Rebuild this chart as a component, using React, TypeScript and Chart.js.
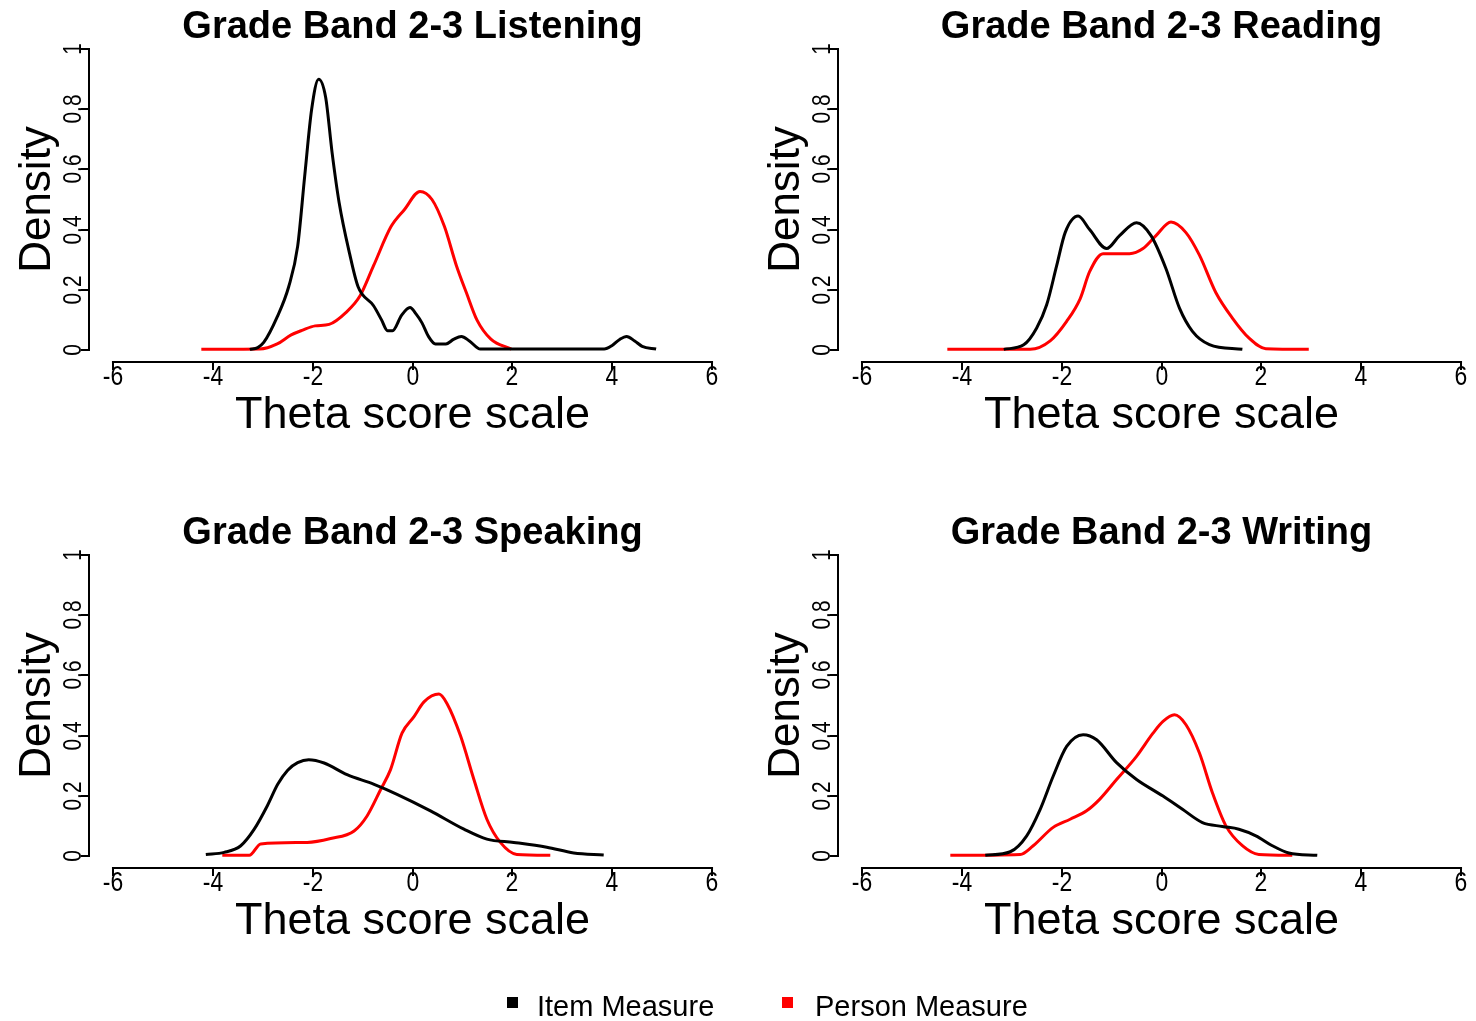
import React, { useEffect, useRef } from 'react';
import { Chart, registerables } from 'chart.js';

Chart.register(...registerables);

const FONT = '"Liberation Sans", Arial, Helvetica, sans-serif';

// ---- text / ticks ----
const panelTitles = [
  'Grade Band 2-3 Listening',
  'Grade Band 2-3 Reading',
  'Grade Band 2-3 Speaking',
  'Grade Band 2-3 Writing',
];
const xTickValues = [-6, -4, -2, 0, 2, 4, 6];
const xTickLabels = ['-6', '-4', '-2', '0', '2', '4', '6'];
const yTickValues = [0, 0.2, 0.4, 0.6, 0.8, 1];
const yTickLabels = ['0', '0.2', '0.4', '0.6', '0.8', '1'];
const xAxisLabel = 'Theta score scale';
const yAxisLabel = 'Density';
const seriesNames = ['Item Measure', 'Person Measure'];
const seriesColors = ['#000000', '#ff0000'];

// ---- Listening ----
const listeningItemX = [-3.26, -3.1, -2.98, -2.71, -2.48, -2.3, -2.16, -2.02, -1.88, -1.74, -1.61, -1.47, -1.26, -1.09, -0.78, -0.62, -0.5, -0.4, -0.22, -0.05, 0.07, 0.19, 0.32, 0.46, 0.67, 0.82, 0.98, 1.14, 1.36, 3.84, 4.0, 4.15, 4.29, 4.45, 4.6, 4.88];
const listeningItemY = [0.002, 0.008, 0.025, 0.11, 0.21, 0.345, 0.577, 0.8, 0.9, 0.84, 0.655, 0.49, 0.32, 0.21, 0.147, 0.1, 0.064, 0.064, 0.115, 0.141, 0.12, 0.09, 0.045, 0.02, 0.02, 0.035, 0.045, 0.03, 0.003, 0.003, 0.015, 0.035, 0.045, 0.03, 0.012, 0.003];
const listeningPersonX = [-4.23, -3.06, -2.71, -2.43, -2.2, -1.95, -1.67, -1.33, -1.05, -0.78, -0.43, -0.16, 0.15, 0.39, 0.64, 0.88, 1.08, 1.29, 1.57, 1.98];
const listeningPersonY = [0.002, 0.003, 0.02, 0.05, 0.066, 0.08, 0.085, 0.125, 0.18, 0.28, 0.41, 0.467, 0.527, 0.5, 0.41, 0.28, 0.19, 0.1, 0.036, 0.003];

// ---- Reading ----
const readingItemX = [-3.16, -2.76, -2.5, -2.3, -2.1, -1.93, -1.67, -1.44, -1.1, -0.84, -0.5, -0.21, 0.09, 0.36, 0.62, 0.96, 1.62];
const readingItemY = [0.002, 0.017, 0.073, 0.15, 0.28, 0.39, 0.445, 0.4, 0.337, 0.38, 0.423, 0.38, 0.27, 0.139, 0.062, 0.018, 0.002];
const readingPersonX = [-4.29, -2.63, -2.23, -1.9, -1.63, -1.44, -1.17, -0.64, -0.37, -0.11, 0.19, 0.49, 0.76, 1.09, 1.42, 1.75, 2.09, 2.95];
const readingPersonY = [0.002, 0.002, 0.03, 0.095, 0.17, 0.26, 0.32, 0.32, 0.337, 0.38, 0.425, 0.39, 0.315, 0.19, 0.106, 0.04, 0.004, 0.002];

// ---- Speaking ----
const speakingItemX = [-4.14, -3.77, -3.44, -3.17, -2.91, -2.7, -2.5, -2.3, -2.08, -1.77, -1.31, -0.77, -0.31, 0.36, 1.03, 1.49, 2.03, 2.69, 3.23, 3.83];
const speakingItemY = [0.005, 0.012, 0.034, 0.089, 0.166, 0.238, 0.285, 0.31, 0.32, 0.309, 0.27, 0.238, 0.205, 0.15, 0.089, 0.056, 0.045, 0.029, 0.01, 0.003];
const speakingPersonX = [-3.81, -3.27, -3.04, -2.11, -1.64, -1.17, -0.91, -0.64, -0.44, -0.21, 0.03, 0.23, 0.53, 0.69, 0.96, 1.23, 1.49, 1.76, 2.09, 2.76];
const speakingPersonY = [0.002, 0.002, 0.04, 0.045, 0.058, 0.083, 0.133, 0.22, 0.287, 0.408, 0.463, 0.512, 0.538, 0.507, 0.4, 0.254, 0.122, 0.045, 0.005, 0.002];

// ---- Writing ----
const writingItemX = [-3.53, -3.03, -2.7, -2.43, -2.17, -1.9, -1.57, -1.3, -0.9, -0.5, 0.03, 0.42, 0.82, 1.22, 1.55, 1.89, 2.22, 2.55, 3.12];
const writingItemY = [0.002, 0.014, 0.067, 0.155, 0.265, 0.364, 0.403, 0.386, 0.31, 0.254, 0.199, 0.155, 0.111, 0.098, 0.089, 0.067, 0.034, 0.01, 0.002];
const writingPersonX = [-4.23, -2.83, -2.57, -2.17, -1.83, -1.5, -1.24, -0.9, -0.5, -0.17, 0.03, 0.26, 0.49, 0.76, 1.02, 1.29, 1.62, 1.95, 2.62];
const writingPersonY = [0.002, 0.005, 0.034, 0.095, 0.122, 0.15, 0.188, 0.254, 0.331, 0.408, 0.447, 0.469, 0.436, 0.342, 0.21, 0.1, 0.034, 0.005, 0.002];

const PANEL_W = 738;
const PANEL_H = 506;

const rAxesPlugin = {
  id: 'rAxes',
  afterDraw(chart: any, _args: any, opts: any) {
    const { ctx, chartArea } = chart;
    const xs = chart.scales.x;
    const ys = chart.scales.y;
    const left = chartArea.left;
    const bottom = chartArea.bottom;
    ctx.save();
    ctx.strokeStyle = '#000';
    ctx.fillStyle = '#000';
    ctx.lineWidth = 2;
    ctx.lineCap = 'butt';

    // y axis
    const y0 = ys.getPixelForValue(yTickValues[0]);
    const y1 = ys.getPixelForValue(yTickValues[yTickValues.length - 1]);
    ctx.beginPath();
    ctx.moveTo(left, y0 + 1);
    ctx.lineTo(left, y1 - 1);
    ctx.stroke();
    yTickValues.forEach((v, i) => {
      const py = Math.round(ys.getPixelForValue(v));
      ctx.beginPath();
      ctx.moveTo(left - 8, py);
      ctx.lineTo(left, py);
      ctx.stroke();
      ctx.save();
      ctx.translate(left - 8, py);
      ctx.rotate(-Math.PI / 2);
      ctx.scale(0.8, 1);
      ctx.font = `26px ${FONT}`;
      ctx.textAlign = 'center';
      ctx.textBaseline = 'alphabetic';
      ctx.fillText(yTickLabels[i], 0, 0);
      ctx.restore();
    });

    // x axis
    const xa = xs.getPixelForValue(xTickValues[0]);
    const xb = xs.getPixelForValue(xTickValues[xTickValues.length - 1]);
    ctx.beginPath();
    ctx.moveTo(xa - 1, bottom);
    ctx.lineTo(xb + 1, bottom);
    ctx.stroke();
    xTickValues.forEach((v, i) => {
      const px = Math.round(xs.getPixelForValue(v));
      ctx.beginPath();
      ctx.moveTo(px, bottom);
      ctx.lineTo(px, bottom + 8);
      ctx.stroke();
      ctx.save();
      ctx.translate(px, bottom + 23);
      ctx.scale(0.85, 1);
      ctx.font = `27px ${FONT}`;
      ctx.textAlign = 'center';
      ctx.textBaseline = 'alphabetic';
      ctx.fillText(xTickLabels[i], 0, 0);
      ctx.restore();
    });

    const cx = (chartArea.left + chartArea.right) / 2;
    // title
    ctx.font = `bold 38px ${FONT}`;
    ctx.textAlign = 'center';
    ctx.textBaseline = 'alphabetic';
    ctx.fillText(opts.title, cx, chartArea.top + 1);

    // x label
    ctx.font = `45px ${FONT}`;
    ctx.fillText(xAxisLabel, cx, bottom + 66);

    // y label
    ctx.save();
    ctx.translate(50, (chartArea.top + chartArea.bottom) / 2);
    ctx.rotate(-Math.PI / 2);
    ctx.font = `44px ${FONT}`;
    ctx.textAlign = 'center';
    ctx.fillText(yAxisLabel, 0, 0);
    ctx.restore();

    ctx.restore();
  },
};

function Panel(props: { title: string; itemX: number[]; itemY: number[]; personX: number[]; personY: number[]; left: number; top: number }) {
  const ref = useRef<HTMLCanvasElement>(null);
  useEffect(() => {
    const mk = (xs: number[], ys: number[]) => xs.map((x, i) => ({ x, y: ys[i] }));
    const chart = new Chart(ref.current as HTMLCanvasElement, {
      type: 'scatter',
      data: {
        datasets: [
          {
            label: seriesNames[0],
            data: mk(props.itemX, props.itemY),
            showLine: true,
            borderColor: seriesColors[0],
            backgroundColor: seriesColors[0],
            borderWidth: 3,
            pointRadius: 0,
            cubicInterpolationMode: 'monotone',
          } as any,
          {
            label: seriesNames[1],
            data: mk(props.personX, props.personY),
            showLine: true,
            borderColor: seriesColors[1],
            backgroundColor: seriesColors[1],
            borderWidth: 3,
            pointRadius: 0,
            cubicInterpolationMode: 'monotone',
          } as any,
        ],
      },
      options: {
        responsive: false,
        animation: false,
        events: [],
        layout: { padding: { left: 89, right: 2, top: 37, bottom: 144 } },
        scales: {
          x: { type: 'linear', min: -6.48, max: 6.48, display: false },
          y: { type: 'linear', min: -0.04, max: 1.04, display: false },
        },
        plugins: {
          legend: { display: false },
          tooltip: { enabled: false },
          rAxes: { title: props.title },
        } as any,
      },
      plugins: [rAxesPlugin],
    });
    return () => chart.destroy();
  }, []);
  return (
    <canvas
      ref={ref}
      width={PANEL_W}
      height={PANEL_H}
      style={{ position: 'absolute', left: props.left, top: props.top, width: PANEL_W, height: PANEL_H }}
    />
  );
}

export default function App() {
  const legendText: React.CSSProperties = {
    position: 'absolute',
    top: 992,
    fontFamily: FONT,
    fontSize: 29,
    lineHeight: '29px',
    color: '#000',
    whiteSpace: 'nowrap',
  };
  return (
    <div style={{ position: 'absolute', left: 0, top: 0, width: 1476, height: 1021, overflow: 'hidden', background: '#fff' }}>
      <Panel title={panelTitles[0]} itemX={listeningItemX} itemY={listeningItemY} personX={listeningPersonX} personY={listeningPersonY} left={0} top={0} />
      <Panel title={panelTitles[1]} itemX={readingItemX} itemY={readingItemY} personX={readingPersonX} personY={readingPersonY} left={749} top={0} />
      <Panel title={panelTitles[2]} itemX={speakingItemX} itemY={speakingItemY} personX={speakingPersonX} personY={speakingPersonY} left={0} top={506} />
      <Panel title={panelTitles[3]} itemX={writingItemX} itemY={writingItemY} personX={writingPersonX} personY={writingPersonY} left={749} top={506} />
      <div style={{ position: 'absolute', left: 507, top: 997, width: 11, height: 11, background: seriesColors[0] }} />
      <div style={{ ...legendText, left: 537 }}>{seriesNames[0]}</div>
      <div style={{ position: 'absolute', left: 782, top: 997, width: 11, height: 11, background: seriesColors[1] }} />
      <div style={{ ...legendText, left: 815 }}>{seriesNames[1]}</div>
    </div>
  );
}
